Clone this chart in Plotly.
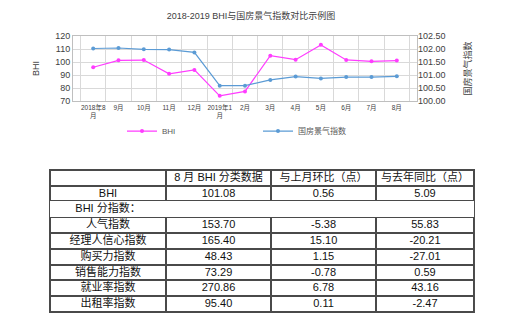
import plotly.graph_objects as go

# Monthly series, Aug 2018 - Aug 2019
months = ["2018年8<br>月", "9月", "10月", "11月", "12月", "2019年1<br>月", "2月",
          "3月", "4月", "5月", "6月", "7月", "8月"]
bhi = [96.0, 101.3, 101.5, 90.9, 93.9, 74.0, 77.4, 104.9, 101.8, 113.2, 101.6, 100.52, 101.08]
guofang = [102.02, 102.04, 101.99, 101.98, 101.87, 100.59, 100.59, 100.81, 100.94,
           100.87, 100.92, 100.92, 100.95]

# August BHI breakdown table (non-breaking spaces keep each label on one line)
table_header = ["", "8\u00a0月\u00a0BHI\u00a0分类数据", "与上月环比（点）", "与去年同比（点）"]
row_names = ["BHI", "BHI\u00a0分指数：", "人气指数", "经理人信心指数", "购买力指数",
             "销售能力指数", "就业率指数", "出租率指数"]
aug_values = [101.08, None, 153.70, 165.40, 48.43, 73.29, 270.86, 95.40]
mom_change = [0.56, None, -5.38, 15.10, 1.15, -0.78, 6.78, 0.11]
yoy_change = [5.09, None, 55.83, -20.21, -27.01, 0.59, 43.16, -2.47]

W, H = 520, 330
FONT = "Liberation Sans, Arial, Noto Sans CJK SC, sans-serif"
CJK = "Liberation Sans, Noto Sans CJK SC, sans-serif"

ROW_H = 15.8
TABLE_TOP = 170
TEXT_LIFT = 5.5          # plotly places cell text below the cell centre; lift the text layer
COL_W = [116, 105, 105, 98]
TABLE_X = [50 / W, 474 / W]
LINE = "#4A4A4A"


def fmt(col):
    return ["" if v is None else f"{v:.2f}" for v in col]


columns = [row_names, fmt(aug_values), fmt(mom_change), fmt(yoy_change)]
n_rows = len(row_names)
blank_cols = [[""] * n_rows for _ in columns]
# the "分指数" heading row spans the whole table width
span_row = [v is None for v in aug_values]

fig = go.Figure()

fig.add_trace(go.Scatter(
    x=months, y=bhi, name="BHI", mode="lines+markers",
    line=dict(color="#FF3CFF", width=1.2),
    marker=dict(size=4, color="#FF3CFF"),
    xaxis="x", yaxis="y", legend="legend",
))
fig.add_trace(go.Scatter(
    x=months, y=guofang, name="国房景气指数", mode="lines+markers",
    line=dict(color="#5B9BD5", width=1.2),
    marker=dict(size=4, color="#5B9BD5"),
    xaxis="x", yaxis="y2", legend="legend2",
))

# table grid
fig.add_trace(go.Table(
    domain=dict(x=TABLE_X, y=[0, 1 - TABLE_TOP / H]),
    columnwidth=COL_W,
    header=dict(values=[""] * 4, height=ROW_H,
                line=dict(color=LINE, width=2), fill_color="white"),
    cells=dict(values=blank_cols, height=ROW_H,
               line=dict(color=LINE, width=2), fill_color="white"),
))
# blank out inner column rules on the spanning heading row
fig.add_trace(go.Table(
    domain=dict(x=TABLE_X, y=[0, 1 - TABLE_TOP / H]),
    columnwidth=COL_W,
    header=dict(values=[""] * 4, height=ROW_H,
                line=dict(width=0), fill_color="rgba(0,0,0,0)"),
    cells=dict(values=blank_cols, height=ROW_H, line=dict(width=0),
               fill_color=[["white" if s else "rgba(0,0,0,0)" for s in span_row]] * 4),
))
# table text
fig.add_trace(go.Table(
    domain=dict(x=TABLE_X, y=[0, 1 - (TABLE_TOP - TEXT_LIFT) / H]),
    columnwidth=COL_W,
    header=dict(values=table_header, height=ROW_H,
                line=dict(width=0), fill_color="rgba(0,0,0,0)",
                font=dict(family=CJK, size=11, color="#111111"), align="center"),
    cells=dict(values=columns, height=ROW_H,
               line=dict(width=0), fill_color="rgba(0,0,0,0)",
               font=dict(family=CJK, size=11, color="#111111"), align="center"),
))

x0, x1 = 73 / W, 417 / W
y0, y1 = 1 - 99 / H, 1 - 32 / H

fig.update_layout(
    width=W, height=H,
    margin=dict(l=0, r=0, t=0, b=0),
    paper_bgcolor="white", plot_bgcolor="white",
    font=dict(family=FONT, color="#404040"),
    title=dict(text="2018-2019 BHI与国房景气指数对比示例图", x=251 / W, xanchor="center",
               y=1 - 16 / H, yanchor="middle", font=dict(size=9, color="#404040")),
    xaxis=dict(
        domain=[x0, x1], type="category", tickson="boundaries",
        showgrid=True, gridcolor="#D9D9D9", gridwidth=1,
        showline=True, linecolor="#BFBFBF", mirror=True,
        ticks="", tickangle=0, tickfont=dict(size=6.5, color="#404040"),
        anchor="y",
    ),
    yaxis=dict(
        domain=[y0, y1], range=[70, 120], dtick=10,
        showgrid=True, gridcolor="#D9D9D9",
        showline=True, linecolor="#BFBFBF", mirror=True,
        ticks="", tickfont=dict(size=9, color="#404040"),
        title=dict(text="BHI", font=dict(size=9, color="#404040"), standoff=14),
        zeroline=False,
    ),
    yaxis2=dict(
        overlaying="y", side="right", anchor="x",
        range=[100, 102.5], dtick=0.5, tickformat=".2f",
        showgrid=False, ticks="", tickfont=dict(size=9, color="#404040"),
        title=dict(text="国房景气指数", font=dict(size=9, color="#404040"), standoff=20),
        zeroline=False,
    ),
    legend=dict(x=122 / W, xanchor="left", y=1 - 130 / H, yanchor="middle",
                font=dict(size=8, color="#595959"), bgcolor="rgba(0,0,0,0)",
                itemwidth=30),
    legend2=dict(x=258 / W, xanchor="left", y=1 - 130 / H, yanchor="middle",
                 font=dict(size=8, color="#595959"), bgcolor="rgba(0,0,0,0)",
                 itemwidth=30),
    showlegend=True,
)

fig.write_html("out.html")
